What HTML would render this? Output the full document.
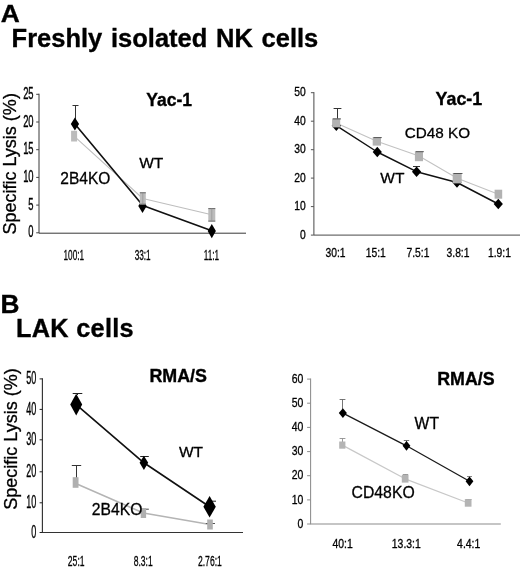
<!DOCTYPE html>
<html><head><meta charset="utf-8"><title>Figure</title>
<style>
html,body{margin:0;padding:0;background:#fff;}
body{width:520px;height:568px;overflow:hidden;}
svg{display:block;font-family:"Liberation Sans",sans-serif;}
</style></head>
<body>
<svg width="520" height="568" viewBox="0 0 520 568">
<defs><filter id="soft" x="-2%" y="-2%" width="104%" height="104%" color-interpolation-filters="sRGB"><feGaussianBlur stdDeviation="0.3"/></filter></defs>
<rect width="520" height="568" fill="#fff"/>
<g filter="url(#soft)">
<text transform="translate(0.8,21.6) scale(1.08,1)" font-size="24.4" text-anchor="start" font-weight="bold" fill="#000" stroke="#000" stroke-width="0.35">A</text>
<text transform="translate(11.6,46.5) scale(1.0,1)" font-size="25.5" text-anchor="start" font-weight="bold" fill="#000" style="word-spacing:1.6px" stroke="#000" stroke-width="0.35">Freshly isolated NK cells</text>
<text transform="translate(0.4,312.8) scale(1.05,1)" font-size="25" text-anchor="start" font-weight="bold" fill="#000" stroke="#000" stroke-width="0.35">B</text>
<text transform="translate(16.0,337.0) scale(1.0,1)" font-size="25.3" text-anchor="start" font-weight="bold" fill="#000" style="letter-spacing:0.3px" stroke="#000" stroke-width="0.35">LAK cells</text>
<path d="M39,93.7 L39,233.20000000000002 L246,233.20000000000002" stroke="#383838" stroke-width="1" fill="none"/>
<path d="M36.2,232.8 L39,232.8" stroke="#444" stroke-width="1"/>
<text transform="translate(33.6,237.4) scale(0.57,1)" font-size="16.5" text-anchor="end" font-weight="normal" fill="#000" stroke="#000" stroke-width="0.4">0</text>
<path d="M36.2,205.1 L39,205.1" stroke="#444" stroke-width="1"/>
<text transform="translate(33.6,209.7) scale(0.57,1)" font-size="16.5" text-anchor="end" font-weight="normal" fill="#000" stroke="#000" stroke-width="0.4">5</text>
<path d="M36.2,177.4 L39,177.4" stroke="#444" stroke-width="1"/>
<text transform="translate(33.6,182.0) scale(0.57,1)" font-size="16.5" text-anchor="end" font-weight="normal" fill="#000" stroke="#000" stroke-width="0.4">10</text>
<path d="M36.2,149.7 L39,149.7" stroke="#444" stroke-width="1"/>
<text transform="translate(33.6,154.3) scale(0.57,1)" font-size="16.5" text-anchor="end" font-weight="normal" fill="#000" stroke="#000" stroke-width="0.4">15</text>
<path d="M36.2,122.0 L39,122.0" stroke="#444" stroke-width="1"/>
<text transform="translate(33.6,126.6) scale(0.57,1)" font-size="16.5" text-anchor="end" font-weight="normal" fill="#000" stroke="#000" stroke-width="0.4">20</text>
<path d="M36.2,94.3 L39,94.3" stroke="#444" stroke-width="1"/>
<text transform="translate(33.6,98.9) scale(0.57,1)" font-size="16.5" text-anchor="end" font-weight="normal" fill="#000" stroke="#000" stroke-width="0.4">25</text>
<text transform="translate(16.2,234.6) rotate(-90)" font-size="18.5" fill="#000" textLength="141.5" lengthAdjust="spacingAndGlyphs" stroke="#000" stroke-width="0.3">Specific Lysis (%)</text>
<polyline points="74.1,136.2 142.8,198.5 211.8,214.7" fill="none" stroke="#bebebe" stroke-width="1.05" stroke-linejoin="round"/>
<polyline points="74.9,124.0 142.8,205.5 211.8,230.8" fill="none" stroke="#111" stroke-width="1.65" stroke-linejoin="round"/>
<path d="M75.5,124.0 L75.5,105.5 M72.5,105.5 L78.5,105.5" stroke="#333" stroke-width="1" fill="none"/>
<polygon points="74.9,117.6 79.1,124.0 74.9,130.4 70.8,124.0" fill="#000"/>
<polygon points="142.5,199.1 146.7,206.1 142.5,213.1 138.3,206.1" fill="#000"/>
<polygon points="211.8,223.9 215.9,231.1 211.8,238.3 207.7,231.1" fill="#000"/>
<rect x="71.1" y="130.8" width="6" height="10.7" fill="#bcbcbc"/>
<rect x="139.8" y="192.2" width="6" height="12.5" fill="#bcbcbc"/><path d="M139.8,192.8 h6 M139.8,204.2 h6" stroke="#555" stroke-width="1" opacity="0.8"/><path d="M142.8,192.2 v12.5" stroke="#8a8a8a" stroke-width="1" opacity="0.6"/>
<rect x="208.3" y="208.1" width="7" height="13.5" fill="#bcbcbc"/><path d="M208.3,208.6 h7 M208.3,221.1 h7" stroke="#555" stroke-width="1" opacity="0.8"/><path d="M211.8,208.1 v13.5" stroke="#8a8a8a" stroke-width="1" opacity="0.6"/>
<text transform="translate(146.3,105.9) scale(1.0,1)" font-size="17.5" text-anchor="start" font-weight="bold" fill="#000" stroke="#000" stroke-width="0.35">Yac-1</text>
<text transform="translate(139.2,168.0) scale(1.0,1)" font-size="15.5" text-anchor="start" font-weight="normal" fill="#000" stroke="#000" stroke-width="0.3">WT</text>
<text transform="translate(60.3,184.0) scale(0.97,1)" font-size="16" text-anchor="start" font-weight="normal" fill="#000" stroke="#000" stroke-width="0.3">2B4KO</text>
<text transform="translate(73.8,259.9) scale(0.578,1)" font-size="14.2" text-anchor="middle" font-weight="normal" fill="#000" stroke="#000" stroke-width="0.3">100:1</text>
<text transform="translate(142.6,259.9) scale(0.578,1)" font-size="14.2" text-anchor="middle" font-weight="normal" fill="#000" stroke="#000" stroke-width="0.3">33:1</text>
<text transform="translate(211.5,259.9) scale(0.578,1)" font-size="14.2" text-anchor="middle" font-weight="normal" fill="#000" stroke="#000" stroke-width="0.3">11:1</text>
<path d="M313.9,92.10000000000001 L313.9,235.1 L520,235.1" stroke="#484848" stroke-width="1" fill="none"/>
<path d="M310.9,235.1 L313.9,235.1" stroke="#555" stroke-width="1"/>
<text transform="translate(305.7,238.5) scale(0.86,1)" font-size="12" text-anchor="end" font-weight="normal" fill="#000" stroke="#000" stroke-width="0.3">0</text>
<path d="M310.9,206.6 L313.9,206.6" stroke="#555" stroke-width="1"/>
<text transform="translate(305.7,210.0) scale(0.86,1)" font-size="12" text-anchor="end" font-weight="normal" fill="#000" stroke="#000" stroke-width="0.3">10</text>
<path d="M310.9,178.1 L313.9,178.1" stroke="#555" stroke-width="1"/>
<text transform="translate(305.7,181.5) scale(0.86,1)" font-size="12" text-anchor="end" font-weight="normal" fill="#000" stroke="#000" stroke-width="0.3">20</text>
<path d="M310.9,149.7 L313.9,149.7" stroke="#555" stroke-width="1"/>
<text transform="translate(305.7,153.1) scale(0.86,1)" font-size="12" text-anchor="end" font-weight="normal" fill="#000" stroke="#000" stroke-width="0.3">30</text>
<path d="M310.9,121.2 L313.9,121.2" stroke="#555" stroke-width="1"/>
<text transform="translate(305.7,124.6) scale(0.86,1)" font-size="12" text-anchor="end" font-weight="normal" fill="#000" stroke="#000" stroke-width="0.3">40</text>
<path d="M310.9,92.7 L313.9,92.7" stroke="#555" stroke-width="1"/>
<text transform="translate(305.7,96.1) scale(0.86,1)" font-size="12" text-anchor="end" font-weight="normal" fill="#000" stroke="#000" stroke-width="0.3">50</text>
<polyline points="336.2,122.9 376.8,141.3 419.0,156.0 457.2,178.2 498.4,194.2" fill="none" stroke="#c2c2c2" stroke-width="1.05" stroke-linejoin="round"/>
<polyline points="336.3,125.7 377.3,152.0 416.6,171.7 457.0,182.5 498.3,204.0" fill="none" stroke="#111" stroke-width="1.45" stroke-linejoin="round"/>
<path d="M337.5,119.0 L337.5,108.5 M333.6,108.5 L341.4,108.5" stroke="#333" stroke-width="1" fill="none"/>
<path d="M416.5,170.0 L416.5,166.5 M413.0,166.5 L420.0,166.5" stroke="#333" stroke-width="1" fill="none"/>
<polygon points="336.3,120.4 340.9,125.7 336.3,131.0 331.7,125.7" fill="#000"/>
<polygon points="377.3,146.7 381.9,152.0 377.3,157.3 372.7,152.0" fill="#000"/>
<polygon points="416.6,166.4 421.2,171.7 416.6,177.0 412.0,171.7" fill="#000"/>
<polygon points="457.0,177.2 461.6,182.5 457.0,187.8 452.4,182.5" fill="#000"/>
<polygon points="498.3,198.7 502.9,204.0 498.3,209.3 493.7,204.0" fill="#000"/>
<rect x="332.1" y="118.4" width="8.1" height="9" fill="#b2b2b2"/><path d="M332.9,118.9 h8.1" stroke="#444" stroke-width="1" opacity="0.85"/>
<rect x="372.7" y="137.1" width="8.3" height="8.5" fill="#b2b2b2"/><path d="M373.5,137.6 h8.3" stroke="#444" stroke-width="1" opacity="0.85"/>
<rect x="414.9" y="151.2" width="8.1" height="10" fill="#b2b2b2"/><path d="M415.8,151.7 h8.1" stroke="#444" stroke-width="1" opacity="0.85"/>
<rect x="452.7" y="173.0" width="9" height="10.4" fill="#b2b2b2"/><path d="M453.5,173.5 h9" stroke="#444" stroke-width="1" opacity="0.85"/>
<rect x="494.6" y="189.7" width="7.6" height="9" fill="#b2b2b2"/>
<text transform="translate(435.6,105.4) scale(1.02,1)" font-size="17.5" text-anchor="start" font-weight="bold" fill="#000" stroke="#000" stroke-width="0.35">Yac-1</text>
<text transform="translate(404.8,138.1) scale(0.985,1)" font-size="15.5" text-anchor="start" font-weight="normal" fill="#000" stroke="#000" stroke-width="0.3">CD48 KO</text>
<text transform="translate(380.3,182.9) scale(1.0,1)" font-size="15.5" text-anchor="start" font-weight="normal" fill="#000" stroke="#000" stroke-width="0.3">WT</text>
<text transform="translate(335.5,256.7) scale(0.86,1)" font-size="12" text-anchor="middle" font-weight="normal" fill="#000" stroke="#000" stroke-width="0.3">30:1</text>
<text transform="translate(375.7,256.7) scale(0.86,1)" font-size="12" text-anchor="middle" font-weight="normal" fill="#000" stroke="#000" stroke-width="0.3">15:1</text>
<text transform="translate(417.9,256.7) scale(0.86,1)" font-size="12" text-anchor="middle" font-weight="normal" fill="#000" stroke="#000" stroke-width="0.3">7.5:1</text>
<text transform="translate(458.0,256.7) scale(0.86,1)" font-size="12" text-anchor="middle" font-weight="normal" fill="#000" stroke="#000" stroke-width="0.3">3.8:1</text>
<text transform="translate(499.4,256.7) scale(0.86,1)" font-size="12" text-anchor="middle" font-weight="normal" fill="#000" stroke="#000" stroke-width="0.3">1.9:1</text>
<path d="M42.4,378.29999999999995 L42.4,532.5 L243,532.5" stroke="#333" stroke-width="1.15" fill="none"/>
<path d="M39.6,532.5 L42.4,532.5" stroke="#222" stroke-width="1"/>
<text transform="translate(36.3,537.6) scale(0.49,1)" font-size="18.5" text-anchor="end" font-weight="normal" fill="#000" stroke="#000" stroke-width="0.4">0</text>
<path d="M39.6,502.8 L42.4,502.8" stroke="#222" stroke-width="1"/>
<text transform="translate(36.3,507.9) scale(0.49,1)" font-size="18.5" text-anchor="end" font-weight="normal" fill="#000" stroke="#000" stroke-width="0.4">10</text>
<path d="M39.6,471.8 L42.4,471.8" stroke="#222" stroke-width="1"/>
<text transform="translate(36.3,476.9) scale(0.49,1)" font-size="18.5" text-anchor="end" font-weight="normal" fill="#000" stroke="#000" stroke-width="0.4">20</text>
<path d="M39.6,439.8 L42.4,439.8" stroke="#222" stroke-width="1"/>
<text transform="translate(36.3,444.9) scale(0.49,1)" font-size="18.5" text-anchor="end" font-weight="normal" fill="#000" stroke="#000" stroke-width="0.4">30</text>
<path d="M39.6,409.4 L42.4,409.4" stroke="#222" stroke-width="1"/>
<text transform="translate(36.3,414.5) scale(0.49,1)" font-size="18.5" text-anchor="end" font-weight="normal" fill="#000" stroke="#000" stroke-width="0.4">40</text>
<path d="M39.6,378.9 L42.4,378.9" stroke="#222" stroke-width="1"/>
<text transform="translate(36.3,384.0) scale(0.49,1)" font-size="18.5" text-anchor="end" font-weight="normal" fill="#000" stroke="#000" stroke-width="0.4">50</text>
<text transform="translate(16.6,509.8) rotate(-90)" font-size="18.5" fill="#000" textLength="141.5" lengthAdjust="spacingAndGlyphs" stroke="#000" stroke-width="0.3">Specific Lysis (%)</text>
<polyline points="75.8,483.5 143.4,513.0 210.0,524.5" fill="none" stroke="#b4b4b4" stroke-width="1.5" stroke-linejoin="round"/>
<polyline points="76.2,404.6 143.9,462.8 209.6,506.7" fill="none" stroke="#111" stroke-width="1.65" stroke-linejoin="round"/>
<path d="M77.5,395.0 L77.5,393.5 M72.7,393.5 L82.3,393.5" stroke="#222" stroke-width="1" fill="none"/>
<path d="M144.5,457.0 L144.5,456.5 M140.2,456.5 L148.8,456.5" stroke="#222" stroke-width="1" fill="none"/>
<path d="M209.6,501.2 H216" stroke="#222" stroke-width="1"/>
<path d="M76.5,478.0 L76.5,465.5 M71.8,465.5 L81.2,465.5" stroke="#333" stroke-width="1" fill="none"/>
<path d="M143,509.2 H148.8" stroke="#444" stroke-width="1"/>
<path d="M205.8,523.5 H215" stroke="#555" stroke-width="1"/>
<rect x="72.7" y="477.2" width="5.8" height="10.6" fill="#b0b0b0"/>
<rect x="140.7" y="508.0" width="5.4" height="10" fill="#b0b0b0"/>
<rect x="207.2" y="519.5" width="5.6" height="10" fill="#b0b0b0"/>
<polygon points="76.2,393.8 82.2,404.6 76.2,415.4 70.2,404.6" fill="#000"/>
<polygon points="143.9,455.7 148.2,462.8 143.9,469.9 139.6,462.8" fill="#000"/>
<polygon points="209.6,496.1 215.8,506.7 209.6,517.4 203.4,506.7" fill="#000"/>
<text transform="translate(149.4,382.0) scale(1.0,1)" font-size="17.5" text-anchor="start" font-weight="bold" fill="#000" textLength="57.6" lengthAdjust="spacingAndGlyphs" stroke="#000" stroke-width="0.35">RMA/S</text>
<text transform="translate(178.9,456.8) scale(1.0,1)" font-size="15.5" text-anchor="start" font-weight="normal" fill="#000" stroke="#000" stroke-width="0.3">WT</text>
<text transform="translate(91.8,515.2) scale(0.98,1)" font-size="16" text-anchor="start" font-weight="normal" fill="#000" stroke="#000" stroke-width="0.3">2B4KO</text>
<text transform="translate(76.2,566.2) scale(0.555,1)" font-size="15.5" text-anchor="middle" font-weight="normal" fill="#000" stroke="#000" stroke-width="0.3">25:1</text>
<text transform="translate(143.2,566.2) scale(0.555,1)" font-size="15.5" text-anchor="middle" font-weight="normal" fill="#000" stroke="#000" stroke-width="0.3">8.3:1</text>
<text transform="translate(209.9,566.2) scale(0.555,1)" font-size="15.5" text-anchor="middle" font-weight="normal" fill="#000" stroke="#000" stroke-width="0.3">2.76:1</text>
<path d="M310.6,378.5 L310.6,524 L500.8,524" stroke="#8c8c8c" stroke-width="1.05" fill="none"/>
<path d="M307.1,524.0 L310.6,524.0" stroke="#8c8c8c" stroke-width="1"/>
<text transform="translate(303.3,527.6) scale(0.87,1)" font-size="12" text-anchor="end" font-weight="normal" fill="#000" stroke="#000" stroke-width="0.3">0</text>
<path d="M307.1,499.9 L310.6,499.9" stroke="#8c8c8c" stroke-width="1"/>
<text transform="translate(303.3,503.5) scale(0.87,1)" font-size="12" text-anchor="end" font-weight="normal" fill="#000" stroke="#000" stroke-width="0.3">10</text>
<path d="M307.1,475.7 L310.6,475.7" stroke="#8c8c8c" stroke-width="1"/>
<text transform="translate(303.3,479.3) scale(0.87,1)" font-size="12" text-anchor="end" font-weight="normal" fill="#000" stroke="#000" stroke-width="0.3">20</text>
<path d="M307.1,451.6 L310.6,451.6" stroke="#8c8c8c" stroke-width="1"/>
<text transform="translate(303.3,455.2) scale(0.87,1)" font-size="12" text-anchor="end" font-weight="normal" fill="#000" stroke="#000" stroke-width="0.3">30</text>
<path d="M307.1,427.4 L310.6,427.4" stroke="#8c8c8c" stroke-width="1"/>
<text transform="translate(303.3,431.0) scale(0.87,1)" font-size="12" text-anchor="end" font-weight="normal" fill="#000" stroke="#000" stroke-width="0.3">40</text>
<path d="M307.1,403.2 L310.6,403.2" stroke="#8c8c8c" stroke-width="1"/>
<text transform="translate(303.3,406.9) scale(0.87,1)" font-size="12" text-anchor="end" font-weight="normal" fill="#000" stroke="#000" stroke-width="0.3">50</text>
<path d="M307.1,379.1 L310.6,379.1" stroke="#8c8c8c" stroke-width="1"/>
<text transform="translate(303.3,382.7) scale(0.87,1)" font-size="12" text-anchor="end" font-weight="normal" fill="#000" stroke="#000" stroke-width="0.3">60</text>
<polyline points="342.3,445.1 405.1,478.8 468.2,503.0" fill="none" stroke="#c8c8c8" stroke-width="1.25" stroke-linejoin="round"/>
<polyline points="342.9,413.1 406.5,445.8 469.5,481.3" fill="none" stroke="#1a1a1a" stroke-width="1.3" stroke-linejoin="round"/>
<path d="M342.5,409.0 L342.5,399.5 M339.6,399.5 L345.4,399.5" stroke="#666" stroke-width="0.9" fill="none"/>
<path d="M406.5,442.0 L406.5,440.5 M403.8,440.5 L409.2,440.5" stroke="#666" stroke-width="0.9" fill="none"/>
<path d="M469.5,478.0 L469.5,476.5 M467.0,476.5 L472.0,476.5" stroke="#777" stroke-width="0.9" fill="none"/>
<path d="M342.5,442.0 L342.5,438.5 M339.6,438.5 L345.4,438.5" stroke="#909090" stroke-width="0.9" fill="none"/>
<path d="M405.5,476.0 L405.5,474.5 M402.8,474.5 L408.2,474.5" stroke="#909090" stroke-width="0.9" fill="none"/>
<path d="M468.5,500.0 L468.5,499.5 M465.5,499.5 L471.5,499.5" stroke="#909090" stroke-width="0.9" fill="none"/>
<rect x="339.2" y="441.5" width="6.2" height="7.2" fill="#b4b4b4"/>
<rect x="401.8" y="474.9" width="6.7" height="7.7" fill="#b4b4b4"/>
<rect x="464.8" y="499.2" width="6.7" height="7.5" fill="#b4b4b4"/>
<polygon points="342.9,408.2 346.9,413.1 342.9,418.0 338.8,413.1" fill="#000"/>
<polygon points="406.5,440.9 410.4,445.8 406.5,450.7 402.6,445.8" fill="#000"/>
<polygon points="469.5,476.4 473.4,481.3 469.5,486.2 465.6,481.3" fill="#000"/>
<text transform="translate(437.2,385.2) scale(1.0,1)" font-size="17.5" text-anchor="start" font-weight="bold" fill="#000" textLength="57.4" lengthAdjust="spacingAndGlyphs" stroke="#000" stroke-width="0.35">RMA/S</text>
<text transform="translate(414.6,428.7) scale(1.0,1)" font-size="15.7" text-anchor="start" font-weight="normal" fill="#000" stroke="#000" stroke-width="0.3">WT</text>
<text transform="translate(351.6,498.1) scale(0.985,1)" font-size="16" text-anchor="start" font-weight="normal" fill="#000" stroke="#000" stroke-width="0.3">CD48KO</text>
<text transform="translate(342.6,547.5) scale(0.87,1)" font-size="12" text-anchor="middle" font-weight="normal" fill="#000" stroke="#000" stroke-width="0.3">40:1</text>
<text transform="translate(406.3,547.5) scale(0.87,1)" font-size="12" text-anchor="middle" font-weight="normal" fill="#000" stroke="#000" stroke-width="0.3">13.3:1</text>
<text transform="translate(468.7,547.5) scale(0.87,1)" font-size="12" text-anchor="middle" font-weight="normal" fill="#000" stroke="#000" stroke-width="0.3">4.4:1</text>
</g>
</svg>
</body></html>
